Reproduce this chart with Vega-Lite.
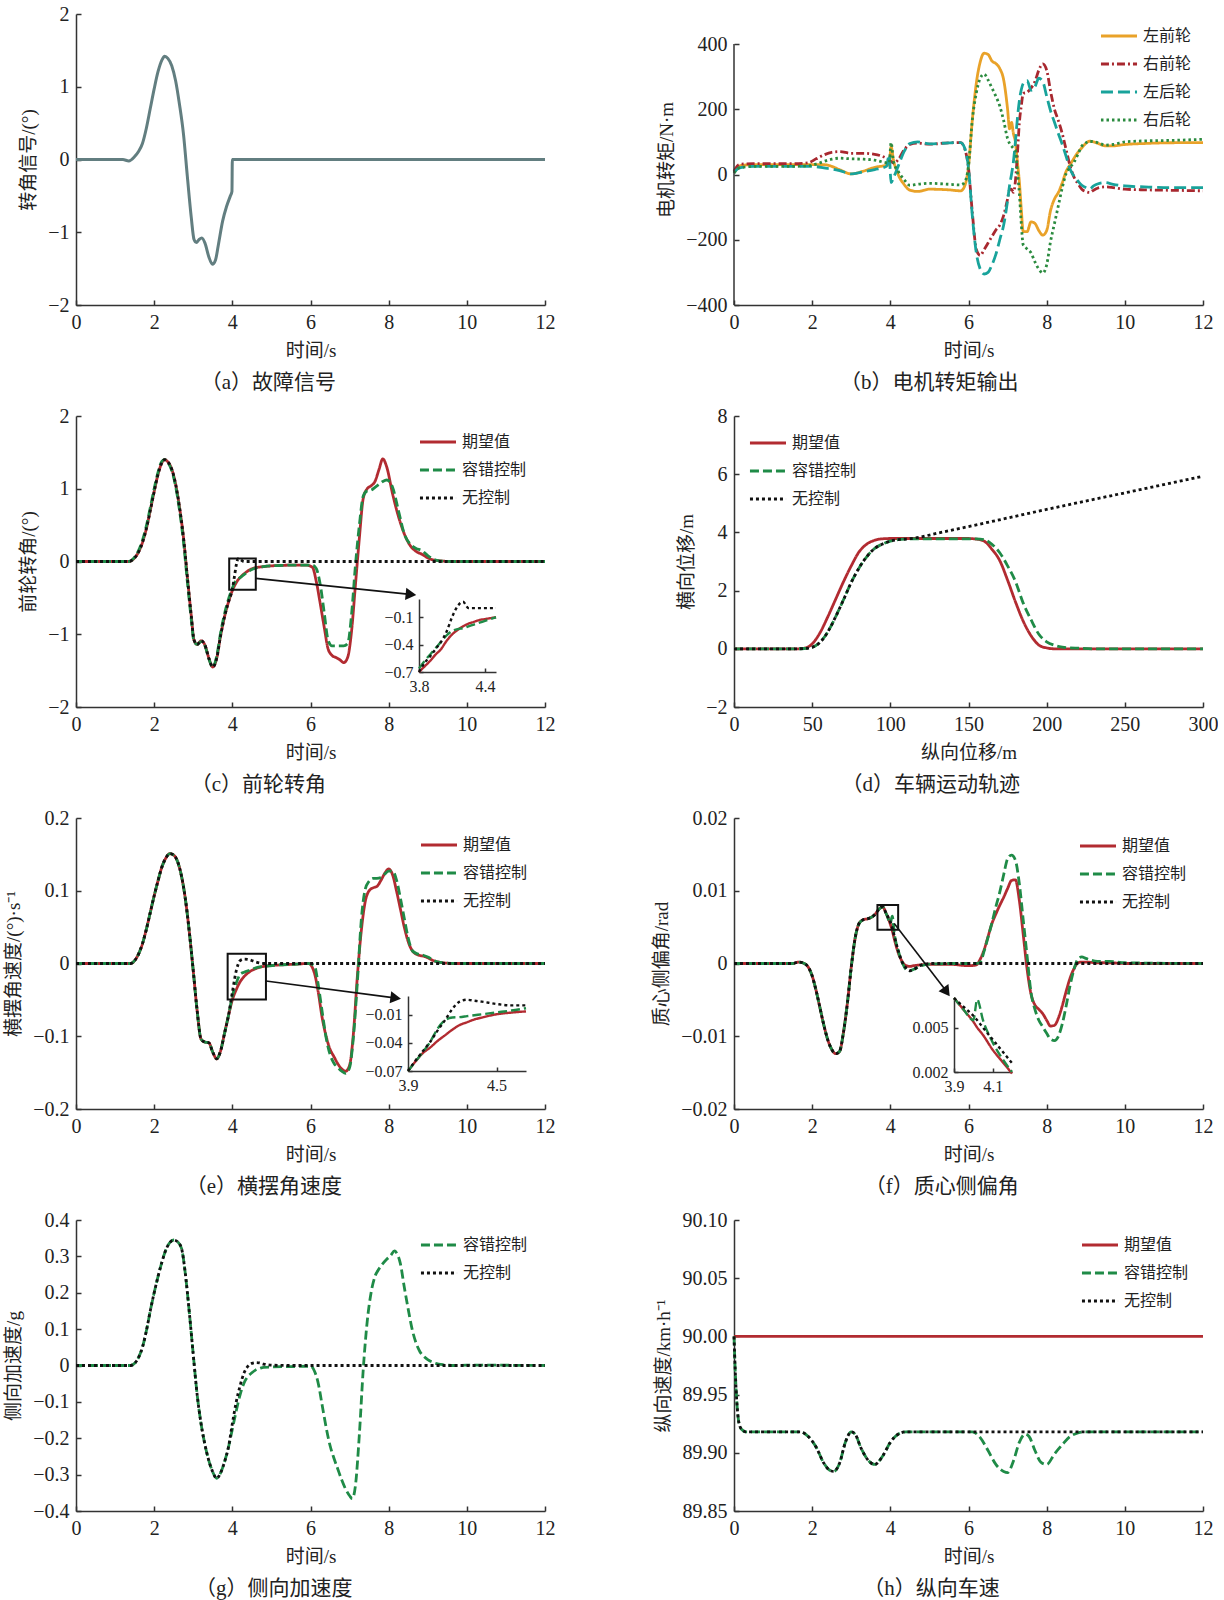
{
"$schema": "https://vega.github.io/schema/vega-lite/v6.json",
"padding": {"left": 4, "top": 4, "right": 0, "bottom": 12},
"background": "white",
"config": {
 "view": {"stroke": null},
 "font": "Liberation Serif, Noto Sans CJK SC",
 "axis": {"labelFont": "Liberation Serif, Noto Sans CJK SC", "labelFontSize": 20, "labelColor": "#222", "titleFont": "Liberation Serif, Noto Sans CJK SC", "titleFontSize": 19, "titleFontWeight": "normal", "titleColor": "#222", "domainColor": "#333", "domainWidth": 1.5, "tickColor": "#333", "tickWidth": 1.5, "tickSize": -5, "grid": false, "labelFlush": false, "labelOverlap": false, "labelPadding": 12, "titlePadding": 9, "format": "~r"},
 "legend": {"symbolType": "stroke", "symbolStrokeWidth": 3, "symbolSize": 1300, "labelFont": "Liberation Serif, Noto Sans CJK SC", "labelFontSize": 16, "labelColor": "#222", "rowPadding": 0, "labelOffset": 4, "padding": 0},
 "title": {"orient": "bottom", "anchor": "middle", "frame": "bounds", "fontSize": 21, "fontWeight": "normal", "font": "Liberation Serif, Noto Sans CJK SC", "offset": 12, "color": "#222"}
},
"datasets": {
 "a": [{"t":0,"v":0},{"t":1.2,"v":0},{"t":1.35,"v":-0.02},{"t":1.5,"v":0.04},{"t":1.6,"v":0.11},{"t":1.7,"v":0.22},{"t":1.8,"v":0.43},{"t":1.9,"v":0.7},{"t":2.0,"v":0.97},{"t":2.1,"v":1.21},{"t":2.2,"v":1.37},{"t":2.27,"v":1.42},{"t":2.35,"v":1.39},{"t":2.45,"v":1.29},{"t":2.55,"v":1.08},{"t":2.65,"v":0.75},{"t":2.75,"v":0.35},{"t":2.85,"v":-0.24},{"t":2.95,"v":-0.8},{"t":3.02,"v":-1.1},{"t":3.08,"v":-1.14},{"t":3.15,"v":-1.1},{"t":3.22,"v":-1.08},{"t":3.3,"v":-1.15},{"t":3.4,"v":-1.34},{"t":3.49,"v":-1.44},{"t":3.57,"v":-1.38},{"t":3.65,"v":-1.15},{"t":3.75,"v":-0.85},{"t":3.85,"v":-0.65},{"t":3.95,"v":-0.5},{"t":3.99,"v":-0.44},{"t":4.0,"v":0},{"t":12,"v":0}],
 "b": [
  {"t":0,"左前轮":5,"右前轮":10,"左后轮":5,"右后轮":5},
  {"t":0.1,"左前轮":22,"右前轮":28,"左后轮":18,"右后轮":18},
  {"t":0.2,"左前轮":28,"右前轮":32,"左后轮":22,"右后轮":22},
  {"t":0.5,"左前轮":30,"右前轮":33,"左后轮":25,"右后轮":25},
  {"t":1.0,"左前轮":30,"右前轮":33,"左后轮":25,"右后轮":25},
  {"t":1.5,"左前轮":30,"右前轮":33,"左后轮":25,"右后轮":25},
  {"t":1.9,"左前轮":30,"右前轮":36,"左后轮":25,"右后轮":27},
  {"t":2.1,"左前轮":30,"右前轮":48,"左后轮":24,"右后轮":32},
  {"t":2.3,"左前轮":30,"右前轮":60,"左后轮":20,"右后轮":40},
  {"t":2.5,"左前轮":25,"右前轮":68,"左后轮":17,"右后轮":47},
  {"t":2.7,"左前轮":15,"右前轮":70,"左后轮":12,"右后轮":50},
  {"t":3.0,"左前轮":2,"右前轮":65,"左后轮":2,"右后轮":48},
  {"t":3.3,"左前轮":10,"右前轮":65,"左后轮":8,"右后轮":47},
  {"t":3.6,"左前轮":22,"右前轮":62,"左后轮":15,"右后轮":44},
  {"t":3.9,"左前轮":28,"右前轮":50,"左后轮":25,"右后轮":36},
  {"t":3.97,"左前轮":30,"右前轮":45,"左后轮":60,"右后轮":35},
  {"t":4.02,"左前轮":85,"右前轮":40,"左后轮":-25,"右后轮":98},
  {"t":4.08,"左前轮":45,"右前轮":35,"左后轮":-10,"右后轮":40},
  {"t":4.2,"左前轮":0,"右前轮":45,"左后轮":25,"右后轮":10},
  {"t":4.35,"左前轮":-30,"右前轮":75,"左后轮":70,"右后轮":-15},
  {"t":4.5,"左前轮":-48,"右前轮":92,"左后轮":95,"右后轮":-33},
  {"t":4.7,"左前轮":-52,"右前轮":96,"左后轮":100,"右后轮":-30},
  {"t":5.0,"左前轮":-45,"右前轮":93,"左后轮":94,"右后轮":-27},
  {"t":5.5,"左前轮":-47,"右前轮":97,"左后轮":97,"右后轮":-30},
  {"t":5.8,"左前轮":-50,"右前轮":98,"左后轮":98,"右后轮":-32},
  {"t":5.9,"左前轮":-36,"右前轮":80,"左后轮":82,"右后轮":-24},
  {"t":6.0,"左前轮":26,"右前轮":20,"左后轮":20,"右后轮":26},
  {"t":6.1,"左前轮":170,"右前轮":-120,"左后轮":-130,"右后轮":170},
  {"t":6.2,"左前轮":280,"右前轮":-230,"左后轮":-240,"右后轮":250},
  {"t":6.3,"左前轮":345,"右前轮":-248,"左后轮":-290,"右后轮":295},
  {"t":6.4,"左前轮":372,"右前轮":-230,"左后轮":-305,"右后轮":308},
  {"t":6.5,"左前轮":368,"右前轮":-210,"左后轮":-300,"右后轮":290},
  {"t":6.6,"左前轮":348,"右前轮":-190,"左后轮":-277,"右后轮":265},
  {"t":6.7,"左前轮":340,"右前轮":-170,"左后轮":-245,"右后轮":240},
  {"t":6.8,"左前轮":325,"右前轮":-155,"左后轮":-200,"右后轮":210},
  {"t":6.9,"左前轮":290,"右前轮":-125,"左后轮":-155,"右后轮":165},
  {"t":7.0,"左前轮":200,"右前轮":-75,"左后轮":-80,"右后轮":110},
  {"t":7.05,"左前轮":140,"右前轮":-46,"左后轮":-34,"右后轮":95},
  {"t":7.1,"左前轮":160,"右前轮":-45,"左后轮":0,"右后轮":87},
  {"t":7.15,"左前轮":125,"右前轮":-55,"左后轮":40,"右后轮":80},
  {"t":7.2,"左前轮":100,"右前轮":-20,"左后轮":100,"右后轮":75},
  {"t":7.25,"左前轮":40,"右前轮":60,"左后轮":170,"右后轮":10},
  {"t":7.3,"左前轮":-20,"右前轮":157,"左后轮":225,"右后轮":-55},
  {"t":7.35,"左前轮":-105,"右前轮":210,"左后轮":260,"右后轮":-150},
  {"t":7.4,"左前轮":-175,"右前轮":248,"左后轮":279,"右后轮":-216},
  {"t":7.5,"左前轮":-175,"右前轮":252,"左后轮":288,"右后轮":-228},
  {"t":7.6,"左前轮":-145,"右前轮":265,"左后轮":258,"右后轮":-240},
  {"t":7.7,"左前轮":-150,"右前轮":285,"左后轮":269,"右后轮":-268},
  {"t":7.8,"左前轮":-172,"右前轮":320,"左后轮":295,"右后轮":-290},
  {"t":7.9,"左前轮":-186,"右前轮":339,"左后轮":285,"右后轮":-302},
  {"t":8.0,"左前轮":-172,"右前轮":320,"左后轮":240,"右后轮":-277},
  {"t":8.1,"左前轮":-110,"右前轮":255,"左后轮":195,"右后轮":-205},
  {"t":8.2,"左前轮":-75,"右前轮":200,"左后轮":160,"右后轮":-150},
  {"t":8.3,"左前轮":-55,"右前轮":165,"左后轮":125,"右后轮":-95},
  {"t":8.4,"左前轮":-25,"右前轮":125,"左后轮":92,"右后轮":-40},
  {"t":8.5,"左前轮":10,"右前轮":75,"左后轮":55,"右后轮":4},
  {"t":8.6,"左前轮":30,"右前轮":26,"左后轮":16,"右后轮":22},
  {"t":8.7,"左前轮":50,"右前轮":-8,"左后轮":-5,"右后轮":38},
  {"t":8.8,"左前轮":68,"右前轮":-28,"左后轮":-20,"右后轮":62},
  {"t":8.9,"左前轮":82,"右前轮":-45,"左后轮":-33,"右后轮":87},
  {"t":9.0,"左前轮":95,"右前轮":-52,"左后轮":-40,"右后轮":97},
  {"t":9.1,"左前轮":102,"右前轮":-55,"左后轮":-44,"右后轮":102},
  {"t":9.2,"左前轮":100,"右前轮":-48,"左后轮":-35,"右后轮":100},
  {"t":9.3,"左前轮":96,"右前轮":-42,"左后轮":-29,"右后轮":98},
  {"t":9.5,"左前轮":88,"右前轮":-38,"左后轮":-25,"右后轮":90},
  {"t":9.7,"左前轮":88,"右前轮":-40,"左后轮":-30,"右后轮":92},
  {"t":10,"左前轮":92,"右前轮":-45,"左后轮":-35,"右后轮":100},
  {"t":10.5,"左前轮":95,"右前轮":-47,"左后轮":-38,"右后轮":103},
  {"t":11,"左前轮":97,"右前轮":-48,"左后轮":-40,"右后轮":104},
  {"t":12,"左前轮":98,"右前轮":-50,"左后轮":-40,"右后轮":108}
 ],
 "c": [
  {"t":0,"期望值":0,"容错控制":0,"无控制":0},
  {"t":1.2,"期望值":0,"容错控制":0,"无控制":0},
  {"t":1.35,"期望值":0,"容错控制":0,"无控制":0},
  {"t":1.5,"期望值":0.05,"容错控制":0.06,"无控制":0.05},
  {"t":1.6,"期望值":0.13,"容错控制":0.15,"无控制":0.13},
  {"t":1.7,"期望值":0.26,"容错控制":0.29,"无控制":0.26},
  {"t":1.8,"期望值":0.45,"容错控制":0.49,"无控制":0.45},
  {"t":1.9,"期望值":0.7,"容错控制":0.74,"无控制":0.7},
  {"t":2.0,"期望值":0.96,"容错控制":1.0,"无控制":0.96},
  {"t":2.1,"期望值":1.2,"容错控制":1.23,"无控制":1.2},
  {"t":2.2,"期望值":1.36,"容错控制":1.38,"无控制":1.36},
  {"t":2.27,"期望值":1.4,"容错控制":1.4,"无控制":1.4},
  {"t":2.35,"期望值":1.37,"容错控制":1.36,"无控制":1.37},
  {"t":2.45,"期望值":1.27,"容错控制":1.25,"无控制":1.27},
  {"t":2.55,"期望值":1.06,"容错控制":1.03,"无控制":1.06},
  {"t":2.65,"期望值":0.74,"容错控制":0.7,"无控制":0.74},
  {"t":2.75,"期望值":0.33,"容错控制":0.27,"无控制":0.33},
  {"t":2.85,"期望值":-0.22,"容错控制":-0.28,"无控制":-0.22},
  {"t":2.95,"期望值":-0.75,"容错控制":-0.8,"无控制":-0.75},
  {"t":3.02,"期望值":-1.08,"容错控制":-1.1,"无控制":-1.08},
  {"t":3.1,"期望值":-1.14,"容错控制":-1.14,"无控制":-1.14},
  {"t":3.2,"期望值":-1.09,"容错控制":-1.1,"无控制":-1.09},
  {"t":3.3,"期望值":-1.15,"容错控制":-1.16,"无控制":-1.15},
  {"t":3.4,"期望值":-1.33,"容错控制":-1.34,"无控制":-1.33},
  {"t":3.5,"期望值":-1.45,"容错控制":-1.45,"无控制":-1.45},
  {"t":3.6,"期望值":-1.33,"容错控制":-1.3,"无控制":-1.33},
  {"t":3.7,"期望值":-1.02,"容错控制":-0.98,"无控制":-1.02},
  {"t":3.8,"期望值":-0.76,"容错控制":-0.72,"无控制":-0.76},
  {"t":3.9,"期望值":-0.56,"容错控制":-0.52,"无控制":-0.56},
  {"t":4.0,"期望值":-0.4,"容错控制":-0.37,"无控制":-0.38},
  {"t":4.05,"期望值":-0.34,"容错控制":-0.3,"无控制":-0.22},
  {"t":4.1,"期望值":-0.29,"容错控制":-0.26,"无控制":-0.05},
  {"t":4.15,"期望值":-0.25,"容错控制":-0.24,"无控制":0.04},
  {"t":4.2,"期望值":-0.22,"容错控制":-0.22,"无控制":0.03},
  {"t":4.3,"期望值":-0.17,"容错控制":-0.18,"无控制":0},
  {"t":4.5,"期望值":-0.1,"容错控制":-0.11,"无控制":0},
  {"t":4.8,"期望值":-0.07,"容错控制":-0.07,"无控制":0},
  {"t":5.2,"期望值":-0.055,"容错控制":-0.055,"无控制":0},
  {"t":5.6,"期望值":-0.05,"容错控制":-0.05,"无控制":0},
  {"t":5.9,"期望值":-0.05,"容错控制":-0.05,"无控制":0},
  {"t":6.05,"期望值":-0.08,"容错控制":-0.05,"无控制":0},
  {"t":6.15,"期望值":-0.28,"容错控制":-0.1,"无控制":0},
  {"t":6.25,"期望值":-0.58,"容错控制":-0.32,"无控制":0},
  {"t":6.35,"期望值":-0.9,"容错控制":-0.7,"无控制":0},
  {"t":6.45,"期望值":-1.2,"容错控制":-1.08,"无控制":0},
  {"t":6.55,"期望值":-1.29,"容错控制":-1.16,"无控制":0},
  {"t":6.65,"期望值":-1.32,"容错控制":-1.16,"无控制":0},
  {"t":6.75,"期望值":-1.35,"容错控制":-1.16,"无控制":0},
  {"t":6.85,"期望值":-1.39,"容错控制":-1.16,"无控制":0},
  {"t":6.95,"期望值":-1.32,"容错控制":-1.13,"无控制":0},
  {"t":7.05,"期望值":-0.96,"容错控制":-0.73,"无控制":0},
  {"t":7.15,"期望值":-0.32,"容错控制":-0.05,"无控制":0},
  {"t":7.25,"期望值":0.32,"容错控制":0.5,"无控制":0},
  {"t":7.35,"期望值":0.87,"容错控制":0.9,"无控制":0},
  {"t":7.45,"期望值":1.0,"容错控制":0.97,"无控制":0},
  {"t":7.55,"期望值":1.04,"容错控制":0.98,"无控制":0},
  {"t":7.65,"期望值":1.1,"容错控制":1.02,"无控制":0},
  {"t":7.75,"期望值":1.26,"容错控制":1.06,"无控制":0},
  {"t":7.85,"期望值":1.41,"容错控制":1.1,"无控制":0},
  {"t":7.95,"期望值":1.3,"容错控制":1.12,"无控制":0},
  {"t":8.1,"期望值":0.93,"容错控制":1.02,"无控制":0},
  {"t":8.25,"期望值":0.62,"容错控制":0.7,"无控制":0},
  {"t":8.4,"期望值":0.38,"容错控制":0.38,"无控制":0},
  {"t":8.55,"期望值":0.22,"容错控制":0.24,"无控制":0},
  {"t":8.7,"期望值":0.14,"容错控制":0.18,"无控制":0},
  {"t":8.85,"期望值":0.1,"容错控制":0.15,"无控制":0},
  {"t":9.0,"期望值":0.05,"容错控制":0.08,"无控制":0},
  {"t":9.15,"期望值":0.02,"容错控制":0.03,"无控制":0},
  {"t":9.3,"期望值":0.01,"容错控制":0.01,"无控制":0},
  {"t":9.6,"期望值":0,"容错控制":0,"无控制":0},
  {"t":12,"期望值":0,"容错控制":0,"无控制":0}
 ],
 "c_in": [
  {"t":3.8,"期望值":-0.7,"容错控制":-0.66,"无控制":-0.7},
  {"t":3.85,"期望值":-0.64,"容错控制":-0.58,"无控制":-0.6},
  {"t":3.9,"期望值":-0.58,"容错控制":-0.51,"无控制":-0.53},
  {"t":3.95,"期望值":-0.51,"容错控制":-0.44,"无控制":-0.45},
  {"t":4.0,"期望值":-0.45,"容错控制":-0.37,"无控制":-0.37},
  {"t":4.05,"期望值":-0.36,"容错控制":-0.3,"无控制":-0.26},
  {"t":4.1,"期望值":-0.29,"容错控制":-0.25,"无控制":-0.1},
  {"t":4.15,"期望值":-0.24,"容错控制":-0.23,"无控制":0.02},
  {"t":4.2,"期望值":-0.2,"容错控制":-0.22,"无控制":0.07},
  {"t":4.25,"期望值":-0.17,"容错控制":-0.2,"无控制":0.0},
  {"t":4.3,"期望值":-0.15,"容错控制":-0.18,"无控制":0.0},
  {"t":4.35,"期望值":-0.13,"容错控制":-0.16,"无控制":0.0},
  {"t":4.4,"期望值":-0.12,"容错控制":-0.14,"无控制":0.0},
  {"t":4.45,"期望值":-0.11,"容错控制":-0.12,"无控制":0.0},
  {"t":4.5,"期望值":-0.1,"容错控制":-0.1,"无控制":0.0}
 ],
 "d": [
  {"t":0,"期望值":0,"容错控制":0,"无控制":0},
  {"t":40,"期望值":0,"容错控制":0,"无控制":0},
  {"t":45,"期望值":0.02,"容错控制":0.01,"无控制":0.01},
  {"t":50,"期望值":0.17,"容错控制":0.05,"无控制":0.05},
  {"t":55,"期望值":0.55,"容错控制":0.22,"无控制":0.22},
  {"t":60,"期望值":1.1,"容错控制":0.58,"无控制":0.58},
  {"t":65,"期望值":1.7,"容错控制":1.1,"无控制":1.1},
  {"t":70,"期望值":2.3,"容错控制":1.68,"无控制":1.68},
  {"t":75,"期望值":2.85,"容错控制":2.28,"无控制":2.28},
  {"t":80,"期望值":3.33,"容错控制":2.78,"无控制":2.78},
  {"t":85,"期望值":3.6,"容错控制":3.17,"无控制":3.17},
  {"t":90,"期望值":3.73,"容错控制":3.45,"无控制":3.45},
  {"t":95,"期望值":3.78,"容错控制":3.6,"无控制":3.6},
  {"t":100,"期望值":3.79,"容错控制":3.7,"无控制":3.7},
  {"t":105,"期望值":3.79,"容错控制":3.75,"无控制":3.75},
  {"t":110,"期望值":3.79,"容错控制":3.77,"无控制":3.77},
  {"t":115,"期望值":3.79,"容错控制":3.78,"无控制":3.8},
  {"t":130,"期望值":3.79,"容错控制":3.78,"无控制":3.97},
  {"t":150,"期望值":3.79,"容错控制":3.78,"无控制":4.2},
  {"t":155,"期望值":3.77,"容错控制":3.78},
  {"t":160,"期望值":3.7,"容错控制":3.75},
  {"t":165,"期望值":3.42,"容错控制":3.59},
  {"t":170,"期望值":3.03,"容错控制":3.3},
  {"t":175,"期望值":2.36,"容错控制":2.85},
  {"t":180,"期望值":1.62,"容错控制":2.32},
  {"t":185,"期望值":0.95,"容错控制":1.57},
  {"t":190,"期望值":0.45,"容错控制":1.0},
  {"t":195,"期望值":0.13,"容错控制":0.5},
  {"t":200,"期望值":0.03,"容错控制":0.24,"无控制":4.79},
  {"t":205,"期望值":0,"容错控制":0.12},
  {"t":210,"期望值":0,"容错控制":0.06},
  {"t":215,"期望值":0,"容错控制":0.03},
  {"t":220,"期望值":0,"容错控制":0.02},
  {"t":230,"期望值":0,"容错控制":0},
  {"t":250,"期望值":0,"容错控制":0,"无控制":5.36},
  {"t":300,"期望值":0,"容错控制":0,"无控制":5.93}
 ],
 "e": [
  {"t":0,"期望值":0,"容错控制":0,"无控制":0},
  {"t":1.4,"期望值":0,"容错控制":0,"无控制":0},
  {"t":1.5,"期望值":0.004,"容错控制":0.004,"无控制":0.004},
  {"t":1.6,"期望值":0.013,"容错控制":0.013,"无控制":0.013},
  {"t":1.7,"期望值":0.027,"容错控制":0.027,"无控制":0.027},
  {"t":1.8,"期望值":0.047,"容错控制":0.047,"无控制":0.047},
  {"t":1.9,"期望值":0.07,"容错控制":0.07,"无控制":0.07},
  {"t":2.0,"期望值":0.093,"容错控制":0.093,"无控制":0.093},
  {"t":2.1,"期望值":0.114,"容错控制":0.114,"无控制":0.114},
  {"t":2.2,"期望值":0.133,"容错控制":0.133,"无控制":0.133},
  {"t":2.3,"期望值":0.145,"容错控制":0.145,"无控制":0.145},
  {"t":2.4,"期望值":0.151,"容错控制":0.151,"无控制":0.151},
  {"t":2.5,"期望值":0.149,"容错控制":0.149,"无控制":0.149},
  {"t":2.6,"期望值":0.14,"容错控制":0.14,"无控制":0.14},
  {"t":2.7,"期望值":0.12,"容错控制":0.12,"无控制":0.12},
  {"t":2.8,"期望值":0.088,"容错控制":0.088,"无控制":0.088},
  {"t":2.9,"期望值":0.043,"容错控制":0.043,"无控制":0.043},
  {"t":3.0,"期望值":-0.01,"容错控制":-0.01,"无控制":-0.01},
  {"t":3.1,"期望值":-0.065,"容错控制":-0.065,"无控制":-0.065},
  {"t":3.2,"期望值":-0.104,"容错控制":-0.104,"无控制":-0.104},
  {"t":3.3,"期望值":-0.108,"容错控制":-0.108,"无控制":-0.108},
  {"t":3.4,"期望值":-0.109,"容错控制":-0.109,"无控制":-0.109},
  {"t":3.5,"期望值":-0.122,"容错控制":-0.122,"无控制":-0.122},
  {"t":3.6,"期望值":-0.131,"容错控制":-0.131,"无控制":-0.131},
  {"t":3.7,"期望值":-0.12,"容错控制":-0.12,"无控制":-0.12},
  {"t":3.8,"期望值":-0.096,"容错控制":-0.096,"无控制":-0.096},
  {"t":3.9,"期望值":-0.072,"容错控制":-0.072,"无控制":-0.072},
  {"t":4.0,"期望值":-0.05,"容错控制":-0.045,"无控制":-0.04},
  {"t":4.1,"期望值":-0.036,"容错控制":-0.027,"无控制":-0.01},
  {"t":4.2,"期望值":-0.025,"容错控制":-0.015,"无控制":0.004},
  {"t":4.3,"期望值":-0.018,"容错控制":-0.012,"无控制":0.006},
  {"t":4.45,"期望值":-0.011,"容错控制":-0.009,"无控制":0.005},
  {"t":4.6,"期望值":-0.007,"容错控制":-0.006,"无控制":0.002},
  {"t":4.8,"期望值":-0.004,"容错控制":-0.004,"无控制":0},
  {"t":5.2,"期望值":-0.002,"容错控制":-0.002,"无控制":0},
  {"t":5.6,"期望值":-0.001,"容错控制":-0.001,"无控制":0},
  {"t":5.95,"期望值":0,"容错控制":0,"无控制":0},
  {"t":6.1,"期望值":-0.013,"容错控制":-0.003,"无控制":0},
  {"t":6.2,"期望值":-0.04,"容错控制":-0.03,"无控制":0},
  {"t":6.3,"期望值":-0.075,"容错控制":-0.067,"无控制":0},
  {"t":6.4,"期望值":-0.1,"容错控制":-0.102,"无控制":0},
  {"t":6.5,"期望值":-0.118,"容错控制":-0.125,"无控制":0},
  {"t":6.6,"期望值":-0.128,"容错控制":-0.137,"无控制":0},
  {"t":6.7,"期望值":-0.138,"容错控制":-0.143,"无控制":0},
  {"t":6.8,"期望值":-0.145,"容错控制":-0.148,"无控制":0},
  {"t":6.9,"期望值":-0.148,"容错控制":-0.151,"无控制":0},
  {"t":7.0,"期望值":-0.14,"容错控制":-0.143,"无控制":0},
  {"t":7.1,"期望值":-0.095,"容错控制":-0.1,"无控制":0},
  {"t":7.2,"期望值":-0.017,"容错控制":-0.025,"无控制":0},
  {"t":7.3,"期望值":0.045,"容错控制":0.06,"无控制":0},
  {"t":7.4,"期望值":0.085,"容错控制":0.102,"无控制":0},
  {"t":7.5,"期望值":0.1,"容错控制":0.113,"无控制":0},
  {"t":7.6,"期望值":0.104,"容错控制":0.117,"无控制":0},
  {"t":7.7,"期望值":0.106,"容错控制":0.117,"无控制":0},
  {"t":7.8,"期望值":0.114,"容错控制":0.118,"无控制":0},
  {"t":7.9,"期望值":0.124,"容错控制":0.123,"无控制":0},
  {"t":8.0,"期望值":0.13,"容错控制":0.127,"无控制":0},
  {"t":8.1,"期望值":0.122,"容错控制":0.127,"无控制":0},
  {"t":8.2,"期望值":0.1,"容错控制":0.115,"无控制":0},
  {"t":8.3,"期望值":0.075,"容错控制":0.09,"无控制":0},
  {"t":8.4,"期望值":0.05,"容错控制":0.062,"无控制":0},
  {"t":8.5,"期望值":0.03,"容错控制":0.035,"无控制":0},
  {"t":8.6,"期望值":0.018,"容错控制":0.018,"无控制":0},
  {"t":8.7,"期望值":0.013,"容错控制":0.014,"无控制":0},
  {"t":8.8,"期望值":0.011,"容错控制":0.012,"无控制":0},
  {"t":8.9,"期望值":0.01,"容错控制":0.011,"无控制":0},
  {"t":9.0,"期望值":0.008,"容错控制":0.009,"无控制":0},
  {"t":9.1,"期望值":0.005,"容错控制":0.006,"无控制":0},
  {"t":9.2,"期望值":0.003,"容错控制":0.003,"无控制":0},
  {"t":9.4,"期望值":0.001,"容错控制":0.001,"无控制":0},
  {"t":9.7,"期望值":0,"容错控制":0,"无控制":0},
  {"t":12,"期望值":0,"容错控制":0,"无控制":0}
 ],
 "e_in": [
  {"t":3.9,"期望值":-0.07,"容错控制":-0.07,"无控制":-0.07},
  {"t":3.95,"期望值":-0.06,"容错控制":-0.06,"无控制":-0.059},
  {"t":4.0,"期望值":-0.051,"容错控制":-0.05,"无控制":-0.049},
  {"t":4.05,"期望值":-0.045,"容错控制":-0.039,"无控制":-0.039},
  {"t":4.1,"期望值":-0.038,"容错控制":-0.025,"无控制":-0.027},
  {"t":4.15,"期望值":-0.032,"容错控制":-0.016,"无控制":-0.016},
  {"t":4.2,"期望值":-0.026,"容错控制":-0.013,"无控制":-0.004},
  {"t":4.25,"期望值":-0.021,"容错控制":-0.0125,"无控制":0.004},
  {"t":4.3,"期望值":-0.018,"容错控制":-0.0115,"无控制":0.006},
  {"t":4.35,"期望值":-0.015,"容错控制":-0.0105,"无控制":0.005},
  {"t":4.4,"期望值":-0.013,"容错控制":-0.0095,"无控制":0.004},
  {"t":4.5,"期望值":-0.0095,"容错控制":-0.0075,"无控制":0.0015},
  {"t":4.6,"期望值":-0.0077,"容错控制":-0.0055,"无控制":0.0},
  {"t":4.7,"期望值":-0.0064,"容错控制":-0.003,"无控制":0.0}
 ],
 "f": [
  {"t":0,"期望值":0,"容错控制":0,"无控制":0},
  {"t":1.5,"期望值":0,"容错控制":0,"无控制":0},
  {"t":1.65,"期望值":0.0002,"容错控制":0.0002,"无控制":0.0002},
  {"t":1.8,"期望值":0,"容错控制":0,"无控制":0},
  {"t":1.9,"期望值":-0.0005,"容错控制":-0.0005,"无控制":-0.0005},
  {"t":2.0,"期望值":-0.0017,"容错控制":-0.0017,"无控制":-0.0017},
  {"t":2.1,"期望值":-0.0037,"容错控制":-0.0037,"无控制":-0.0037},
  {"t":2.2,"期望值":-0.0061,"容错控制":-0.0061,"无控制":-0.0061},
  {"t":2.3,"期望值":-0.0085,"容错控制":-0.0085,"无控制":-0.0085},
  {"t":2.4,"期望值":-0.0105,"容错控制":-0.0105,"无控制":-0.0105},
  {"t":2.5,"期望值":-0.0118,"容错控制":-0.0118,"无控制":-0.0118},
  {"t":2.6,"期望值":-0.0124,"容错控制":-0.0124,"无控制":-0.0124},
  {"t":2.7,"期望值":-0.0121,"容错控制":-0.0121,"无控制":-0.0121},
  {"t":2.8,"期望值":-0.0095,"容错控制":-0.0095,"无控制":-0.0095},
  {"t":2.9,"期望值":-0.0055,"容错控制":-0.0055,"无控制":-0.0055},
  {"t":3.0,"期望值":-0.0005,"容错控制":-0.0005,"无控制":-0.0005},
  {"t":3.1,"期望值":0.0035,"容错控制":0.0035,"无控制":0.0035},
  {"t":3.2,"期望值":0.0055,"容错控制":0.0055,"无控制":0.0055},
  {"t":3.3,"期望值":0.006,"容错控制":0.006,"无控制":0.006},
  {"t":3.45,"期望值":0.0062,"容错控制":0.0062,"无控制":0.0062},
  {"t":3.6,"期望值":0.0067,"容错控制":0.0067,"无控制":0.0067},
  {"t":3.7,"期望值":0.0074,"容错控制":0.0074,"无控制":0.0074},
  {"t":3.8,"期望值":0.0078,"容错控制":0.0078,"无控制":0.0078},
  {"t":3.9,"期望值":0.0068,"容错控制":0.0068,"无控制":0.0068},
  {"t":4.0,"期望值":0.0054,"容错控制":0.0056,"无控制":0.0057},
  {"t":4.05,"期望值":0.0045,"容错控制":0.0065,"无控制":0.0049},
  {"t":4.1,"期望值":0.0034,"容错控制":0.0042,"无控制":0.0038},
  {"t":4.2,"期望值":0.0015,"容错控制":0.0018,"无控制":0.0018},
  {"t":4.3,"期望值":0.0003,"容错控制":0.0002,"无控制":0.0002},
  {"t":4.4,"期望值":-0.0003,"容错控制":-0.0008,"无控制":-0.0006},
  {"t":4.5,"期望值":-0.0004,"容错控制":-0.001,"无控制":-0.001},
  {"t":4.6,"期望值":-0.0003,"容错控制":-0.0008,"无控制":-0.0008},
  {"t":4.75,"期望值":-0.0002,"容错控制":-0.0004,"无控制":-0.0003},
  {"t":5.0,"期望值":-0.0001,"容错控制":-0.0001,"无控制":0},
  {"t":5.5,"期望值":-0.0001,"容错控制":0,"无控制":0},
  {"t":6.0,"期望值":-0.0003,"容错控制":0,"无控制":0},
  {"t":6.2,"期望值":-0.0002,"容错控制":0,"无控制":0},
  {"t":6.3,"期望值":0.0006,"容错控制":0.0002,"无控制":0},
  {"t":6.4,"期望值":0.0019,"容错控制":0.0017,"无控制":0},
  {"t":6.5,"期望值":0.0037,"容错控制":0.0036,"无控制":0},
  {"t":6.6,"期望值":0.0055,"容错控制":0.0056,"无控制":0},
  {"t":6.7,"期望值":0.0068,"容错控制":0.0078,"无控制":0},
  {"t":6.8,"期望值":0.008,"容错控制":0.0098,"无控制":0},
  {"t":6.9,"期望值":0.0091,"容错控制":0.0122,"无控制":0},
  {"t":7.0,"期望值":0.0103,"容错控制":0.0144,"无控制":0},
  {"t":7.1,"期望值":0.0114,"容错控制":0.0149,"无控制":0},
  {"t":7.2,"期望值":0.0115,"容错控制":0.0142,"无控制":0},
  {"t":7.3,"期望值":0.0087,"容错控制":0.011,"无控制":0},
  {"t":7.4,"期望值":0.004,"容错控制":0.006,"无控制":0},
  {"t":7.5,"期望值":-0.0008,"容错控制":0.001,"无控制":0},
  {"t":7.6,"期望值":-0.0042,"容错控制":-0.004,"无控制":0},
  {"t":7.7,"期望值":-0.0057,"容错控制":-0.0063,"无控制":0},
  {"t":7.8,"期望值":-0.0063,"容错控制":-0.0078,"无控制":0},
  {"t":7.9,"期望值":-0.0069,"容错控制":-0.0087,"无控制":0},
  {"t":8.0,"期望值":-0.0078,"容错控制":-0.0096,"无控制":0},
  {"t":8.1,"期望值":-0.0086,"容错控制":-0.0104,"无控制":0},
  {"t":8.2,"期望值":-0.0085,"容错控制":-0.0106,"无控制":0},
  {"t":8.3,"期望值":-0.0075,"容错控制":-0.01,"无控制":0},
  {"t":8.4,"期望值":-0.0058,"容错控制":-0.0083,"无控制":0},
  {"t":8.5,"期望值":-0.0038,"容错控制":-0.0058,"无控制":0},
  {"t":8.6,"期望值":-0.002,"容错控制":-0.003,"无控制":0},
  {"t":8.7,"期望值":-0.0007,"容错控制":-0.0008,"无控制":0},
  {"t":8.8,"期望值":0.0001,"容错控制":0.0006,"无控制":0},
  {"t":8.9,"期望值":0.0002,"容错控制":0.0009,"无控制":0},
  {"t":9.0,"期望值":0.0002,"容错控制":0.0007,"无控制":0},
  {"t":9.3,"期望值":0.0001,"容错控制":0.0003,"无控制":0},
  {"t":9.6,"期望值":0.0001,"容错控制":0.0003,"无控制":0},
  {"t":10,"期望值":0,"容错控制":0.0001,"无控制":0},
  {"t":12,"期望值":0,"容错控制":0,"无控制":0}
 ],
 "f_in": [
  {"t":3.9,"期望值":0.007,"容错控制":0.007,"无控制":0.007},
  {"t":3.95,"期望值":0.0062,"容错控制":0.0062,"无控制":0.0064},
  {"t":4.0,"期望值":0.0054,"容错控制":0.0055,"无控制":0.0058},
  {"t":4.02,"期望值":0.005,"容错控制":0.0069,"无控制":0.0055},
  {"t":4.05,"期望值":0.0045,"容错控制":0.0055,"无控制":0.005},
  {"t":4.1,"期望值":0.0035,"容错控制":0.004,"无控制":0.0042},
  {"t":4.15,"期望值":0.0027,"容错控制":0.0029,"无控制":0.0034},
  {"t":4.2,"期望值":0.0019,"容错控制":0.002,"无控制":0.0026}
 ],
 "g": [
  {"t":0,"容错控制":0,"无控制":0},
  {"t":1.4,"容错控制":0,"无控制":0},
  {"t":1.5,"容错控制":0.006,"无控制":0.006},
  {"t":1.6,"容错控制":0.022,"无控制":0.022},
  {"t":1.7,"容错控制":0.05,"无控制":0.05},
  {"t":1.8,"容错控制":0.095,"无控制":0.095},
  {"t":1.9,"容错控制":0.15,"无控制":0.15},
  {"t":2.0,"容错控制":0.2,"无控制":0.2},
  {"t":2.1,"容错控制":0.245,"无控制":0.245},
  {"t":2.2,"容错控制":0.285,"无控制":0.285},
  {"t":2.3,"容错控制":0.318,"无控制":0.318},
  {"t":2.4,"容错控制":0.338,"无控制":0.338},
  {"t":2.5,"容错控制":0.345,"无控制":0.345},
  {"t":2.6,"容错控制":0.34,"无控制":0.34},
  {"t":2.7,"容错控制":0.322,"无控制":0.322},
  {"t":2.8,"容错控制":0.25,"无控制":0.25},
  {"t":2.9,"容错控制":0.145,"无控制":0.145},
  {"t":3.0,"容错控制":0.03,"无控制":0.03},
  {"t":3.1,"容错控制":-0.08,"无控制":-0.08},
  {"t":3.2,"容错控制":-0.16,"无控制":-0.16},
  {"t":3.3,"容错控制":-0.218,"无控制":-0.218},
  {"t":3.4,"容错控制":-0.262,"无控制":-0.262},
  {"t":3.5,"容错控制":-0.293,"无控制":-0.293},
  {"t":3.6,"容错控制":-0.31,"无控制":-0.31},
  {"t":3.7,"容错控制":-0.295,"无控制":-0.295},
  {"t":3.8,"容错控制":-0.265,"无控制":-0.265},
  {"t":3.9,"容错控制":-0.225,"无控制":-0.225},
  {"t":4.0,"容错控制":-0.175,"无控制":-0.16},
  {"t":4.1,"容错控制":-0.125,"无控制":-0.1},
  {"t":4.2,"容错控制":-0.08,"无控制":-0.055},
  {"t":4.3,"容错控制":-0.048,"无控制":-0.02},
  {"t":4.4,"容错控制":-0.03,"无控制":-0.002},
  {"t":4.5,"容错控制":-0.02,"无控制":0.006},
  {"t":4.6,"容错控制":-0.012,"无控制":0.008},
  {"t":4.7,"容错控制":-0.008,"无控制":0.007},
  {"t":4.8,"容错控制":-0.005,"无控制":0.004},
  {"t":5.0,"容错控制":-0.004,"无控制":0.001},
  {"t":5.5,"容错控制":-0.003,"无控制":0},
  {"t":6.0,"容错控制":-0.002,"无控制":0},
  {"t":6.1,"容错控制":-0.015,"无控制":0},
  {"t":6.2,"容错控制":-0.05,"无控制":0},
  {"t":6.3,"容错控制":-0.11,"无控制":0},
  {"t":6.4,"容错控制":-0.17,"无控制":0},
  {"t":6.5,"容错控制":-0.22,"无控制":0},
  {"t":6.6,"容错控制":-0.255,"无控制":0},
  {"t":6.7,"容错控制":-0.285,"无控制":0},
  {"t":6.8,"容错控制":-0.315,"无控制":0},
  {"t":6.9,"容错控制":-0.34,"无控制":0},
  {"t":7.0,"容错控制":-0.358,"无控制":0},
  {"t":7.07,"容错控制":-0.366,"无控制":0},
  {"t":7.15,"容错控制":-0.33,"无控制":0},
  {"t":7.25,"容错控制":-0.19,"无控制":0},
  {"t":7.35,"容错控制":-0.01,"无控制":0},
  {"t":7.45,"容错控制":0.12,"无控制":0},
  {"t":7.55,"容错控制":0.2,"无控制":0},
  {"t":7.65,"容错控制":0.245,"无控制":0},
  {"t":7.75,"容错控制":0.265,"无控制":0},
  {"t":7.85,"容错控制":0.28,"无控制":0},
  {"t":7.95,"容错控制":0.292,"无控制":0},
  {"t":8.05,"容错控制":0.302,"无控制":0},
  {"t":8.15,"容错控制":0.315,"无控制":0},
  {"t":8.2,"容错控制":0.31,"无控制":0},
  {"t":8.3,"容错控制":0.28,"无控制":0},
  {"t":8.4,"容错控制":0.215,"无控制":0},
  {"t":8.5,"容错控制":0.155,"无控制":0},
  {"t":8.6,"容错控制":0.1,"无控制":0},
  {"t":8.7,"容错控制":0.062,"无控制":0},
  {"t":8.8,"容错控制":0.038,"无控制":0},
  {"t":8.9,"容错控制":0.025,"无控制":0},
  {"t":9.0,"容错控制":0.016,"无控制":0},
  {"t":9.2,"容错控制":0.006,"无控制":0},
  {"t":9.4,"容错控制":0.002,"无控制":0},
  {"t":9.7,"容错控制":0,"无控制":0},
  {"t":10,"容错控制":0.001,"无控制":0},
  {"t":12,"容错控制":0,"无控制":0}
 ],
 "h": [
  {"t":0,"期望值":90,"容错控制":90,"无控制":90},
  {"t":0.03,"期望值":90,"容错控制":89.972,"无控制":89.972},
  {"t":0.08,"期望值":90,"容错控制":89.94,"无控制":89.94},
  {"t":0.13,"期望值":90,"容错控制":89.925,"无控制":89.925},
  {"t":0.2,"期望值":90,"容错控制":89.92,"无控制":89.92},
  {"t":0.3,"期望值":90,"容错控制":89.918,"无控制":89.918},
  {"t":1.7,"期望值":90,"容错控制":89.918,"无控制":89.918},
  {"t":1.9,"期望值":90,"容错控制":89.914,"无控制":89.914},
  {"t":2.1,"期望值":90,"容错控制":89.905,"无控制":89.905},
  {"t":2.3,"期望值":90,"容错控制":89.891,"无控制":89.891},
  {"t":2.45,"期望值":90,"容错控制":89.885,"无控制":89.885},
  {"t":2.55,"期望值":90,"容错控制":89.884,"无控制":89.884},
  {"t":2.7,"期望值":90,"容错控制":89.891,"无控制":89.891},
  {"t":2.85,"期望值":90,"容错控制":89.909,"无控制":89.909},
  {"t":3.0,"期望值":90,"容错控制":89.918,"无控制":89.918},
  {"t":3.1,"期望值":90,"容错控制":89.916,"无控制":89.916},
  {"t":3.25,"期望值":90,"容错控制":89.904,"无控制":89.904},
  {"t":3.45,"期望值":90,"容错控制":89.893,"无控制":89.893},
  {"t":3.6,"期望值":90,"容错控制":89.89,"无控制":89.89},
  {"t":3.8,"期望值":90,"容错控制":89.897,"无控制":89.897},
  {"t":4.0,"期望值":90,"容错控制":89.909,"无控制":89.909},
  {"t":4.2,"期望值":90,"容错控制":89.916,"无控制":89.916},
  {"t":4.4,"期望值":90,"容错控制":89.918,"无控制":89.918},
  {"t":6.1,"期望值":90,"容错控制":89.918,"无控制":89.918},
  {"t":6.3,"期望值":90,"容错控制":89.913,"无控制":89.918},
  {"t":6.5,"期望值":90,"容错控制":89.902,"无控制":89.918},
  {"t":6.7,"期望值":90,"容错控制":89.89,"无控制":89.918},
  {"t":6.9,"期望值":90,"容错控制":89.884,"无控制":89.918},
  {"t":7.0,"期望值":90,"容错控制":89.883,"无控制":89.918},
  {"t":7.15,"期望值":90,"容错控制":89.893,"无控制":89.918},
  {"t":7.3,"期望值":90,"容错控制":89.909,"无控制":89.918},
  {"t":7.45,"期望值":90,"容错控制":89.916,"无控制":89.918},
  {"t":7.55,"期望值":90,"容错控制":89.914,"无控制":89.918},
  {"t":7.7,"期望值":90,"容错控制":89.902,"无控制":89.918},
  {"t":7.85,"期望值":90,"容错控制":89.892,"无控制":89.918},
  {"t":8.0,"期望值":90,"容错控制":89.89,"无控制":89.918},
  {"t":8.2,"期望值":90,"容错控制":89.899,"无控制":89.918},
  {"t":8.4,"期望值":90,"容错控制":89.907,"无控制":89.918},
  {"t":8.6,"期望值":90,"容错控制":89.914,"无控制":89.918},
  {"t":8.8,"期望值":90,"容错控制":89.917,"无控制":89.918},
  {"t":9.0,"期望值":90,"容错控制":89.918,"无控制":89.918},
  {"t":12,"期望值":90,"容错控制":89.918,"无控制":89.918}
 ]
},
"columns": 2,
"spacing": {"row": 111, "column": 189},
"bounds": "flush",
"resolve": {"scale": {"color": "independent", "strokeDash": "independent"}},
"concat": [
 {
  "width": 469, "height": 291, "title": {"text": "（a）故障信号", "dx": -19},
  "data": {"name": "a"},
  "mark": {"type": "line", "interpolate": "monotone", "strokeWidth": 3, "color": "#627E80"},
  "encoding": {
   "x": {"field": "t", "type": "quantitative", "scale": {"domain": [0, 12], "nice": false}, "axis": {"title": "时间/s", "values": [0, 2, 4, 6, 8, 10, 12]}},
   "y": {"field": "v", "type": "quantitative", "scale": {"domain": [-2, 2], "nice": false}, "axis": {"title": "转角信号/(°)", "values": [-2, -1, 0, 1, 2]}}
  }
 },
 {
  "width": 469, "height": 291, "title": {"text": "（b）电机转矩输出", "dx": -6},
  "layer": [
   {
    "data": {"name": "b"},
    "transform": [{"fold": ["左前轮", "右前轮", "左后轮", "右后轮"], "as": ["s", "v"]}],
    "mark": {"type": "line", "interpolate": "monotone", "strokeWidth": 2.8},
    "encoding": {
     "x": {"field": "t", "type": "quantitative", "scale": {"domain": [0, 12], "nice": false}, "axis": {"title": "时间/s", "values": [0, 2, 4, 6, 8, 10, 12]}},
     "y": {"field": "v", "type": "quantitative", "scale": {"domain": [-400, 492], "nice": false, "zero": false}, "axis": {"title": "电机转矩/N·m", "values": [-400, -200, 0, 200, 400], "domain": false}},
     "color": {"field": "s", "type": "nominal", "scale": {"domain": ["左前轮", "右前轮", "左后轮", "右后轮"], "range": ["#E9A229", "#A8282F", "#18A39B", "#2B8B3F"]}, "legend": {"title": null, "orient": "none", "legendX": 365, "legendY": 2}},
     "strokeDash": {"field": "s", "type": "nominal", "scale": {"domain": ["左前轮", "右前轮", "左后轮", "右后轮"], "range": [[1, 0], [8, 3, 2, 3], [12, 5], [2.5, 3]]}, "legend": {"title": null, "orient": "none", "legendX": 365, "legendY": 2}}
    }
   },
   {
    "data": {"values": [{"t": 0, "v": -400, "v2": 400}]},
    "mark": {"type": "rule", "color": "#333", "strokeWidth": 1.5},
    "encoding": {"x": {"field": "t", "type": "quantitative"}, "y": {"field": "v", "type": "quantitative"}, "y2": {"field": "v2"}}
   }
  ]
 },
 {
  "width": 469, "height": 291, "title": {"text": "（c）前轮转角", "dx": -29},
  "resolve": {"scale": {"x": "independent", "y": "independent"}},
  "layer": [
   {
    "layer": [
     {
      "data": {"name": "c"},
      "transform": [{"fold": ["期望值", "容错控制", "无控制"], "as": ["s", "v"]}, {"filter": "isValid(datum.v)"}],
      "mark": {"type": "line", "interpolate": "monotone", "strokeWidth": 2.8},
      "encoding": {
       "x": {"field": "t", "type": "quantitative", "scale": {"domain": [0, 12], "nice": false}, "axis": {"title": "时间/s", "values": [0, 2, 4, 6, 8, 10, 12]}},
       "y": {"field": "v", "type": "quantitative", "scale": {"domain": [-2, 2], "nice": false}, "axis": {"title": "前轮转角/(°)", "values": [-2, -1, 0, 1, 2]}},
       "color": {"field": "s", "type": "nominal", "scale": {"domain": ["期望值", "容错控制", "无控制"], "range": ["#B22B31", "#1F8B47", "#111111"]}, "legend": {"title": null, "orient": "none", "legendX": 342, "legendY": 6}},
       "strokeDash": {"field": "s", "type": "nominal", "scale": {"domain": ["期望值", "容错控制", "无控制"], "range": [[1, 0], [9, 4], [3, 3]]}, "legend": {"title": null, "orient": "none", "legendX": 342, "legendY": 6}}
      }
     },
     {
      "data": {"values": [{"t": 3.92, "t2": 4.6, "v": -0.39, "v2": 0.04}]},
      "mark": {"type": "rect", "filled": false, "stroke": "#111", "strokeWidth": 2},
      "encoding": {"x": {"field": "t", "type": "quantitative"}, "x2": {"field": "t2"}, "y": {"field": "v", "type": "quantitative"}, "y2": {"field": "v2"}}
     },
     {
      "data": {"values": [{"t": 4.6, "v": -0.232, "t2": 8.55, "v2": -0.452}]},
      "mark": {"type": "rule", "color": "#111", "strokeWidth": 1.6},
      "encoding": {"x": {"field": "t", "type": "quantitative"}, "x2": {"field": "t2"}, "y": {"field": "v", "type": "quantitative"}, "y2": {"field": "v2"}}
     },
     {
      "data": {"values": [{"t": 8.57, "v": -0.453}]},
      "mark": {"type": "point", "shape": "triangle-right", "size": 150, "filled": true, "color": "#111", "opacity": 1, "angle": 6},
      "encoding": {"x": {"field": "t", "type": "quantitative"}, "y": {"field": "v", "type": "quantitative"}}
     }
    ]
   },
   {
    "data": {"name": "c_in"},
    "transform": [{"fold": ["期望值", "容错控制", "无控制"], "as": ["s", "v"]}],
    "mark": {"type": "line", "interpolate": "monotone", "strokeWidth": 2.4},
    "encoding": {
     "x": {"field": "t", "type": "quantitative", "scale": {"domain": [3.8, 4.5], "range": [343, 420], "nice": false, "zero": false}, "axis": {"orient": "bottom", "offset": -35, "values": [3.8, 4.4], "title": null, "labelFontSize": 16, "tickSize": -4, "labelPadding": 10}},
     "y": {"field": "v", "type": "quantitative", "scale": {"domain": [-0.7, 0.1], "range": [256, 183], "nice": false, "zero": false}, "axis": {"orient": "left", "offset": -343, "values": [-0.7, -0.4, -0.1], "title": null, "labelFontSize": 16, "tickSize": -4, "labelPadding": 10}},
     "color": {"field": "s", "type": "nominal", "legend": null},
     "strokeDash": {"field": "s", "type": "nominal", "legend": null}
    }
   }
  ]
 },
 {
  "width": 469, "height": 291, "title": {"text": "（d）车辆运动轨迹", "dx": -17},
  "data": {"name": "d"},
  "transform": [{"fold": ["期望值", "容错控制", "无控制"], "as": ["s", "v"]}, {"filter": "isValid(datum.v)"}],
  "mark": {"type": "line", "interpolate": "monotone", "strokeWidth": 2.8},
  "encoding": {
   "x": {"field": "t", "type": "quantitative", "scale": {"domain": [0, 300], "nice": false}, "axis": {"title": "纵向位移/m", "values": [0, 50, 100, 150, 200, 250, 300]}},
   "y": {"field": "v", "type": "quantitative", "scale": {"domain": [-2, 8], "nice": false}, "axis": {"title": "横向位移/m", "values": [-2, 0, 2, 4, 6, 8]}},
   "color": {"field": "s", "type": "nominal", "scale": {"domain": ["期望值", "容错控制", "无控制"], "range": ["#B22B31", "#1F8B47", "#111111"]}, "legend": {"title": null, "orient": "none", "legendX": 14, "legendY": 7}},
   "strokeDash": {"field": "s", "type": "nominal", "scale": {"domain": ["期望值", "容错控制", "无控制"], "range": [[1, 0], [9, 4], [3, 3]]}, "legend": {"title": null, "orient": "none", "legendX": 14, "legendY": 7}}
  }
 },
 {
  "width": 469, "height": 291, "title": {"text": "（e）横摆角速度", "dx": -16},
  "resolve": {"scale": {"x": "independent", "y": "independent"}},
  "layer": [
   {
    "layer": [
     {
      "data": {"name": "e"},
      "transform": [{"fold": ["期望值", "容错控制", "无控制"], "as": ["s", "v"]}, {"filter": "isValid(datum.v)"}],
      "mark": {"type": "line", "interpolate": "monotone", "strokeWidth": 2.8},
      "encoding": {
       "x": {"field": "t", "type": "quantitative", "scale": {"domain": [0, 12], "nice": false}, "axis": {"title": "时间/s", "values": [0, 2, 4, 6, 8, 10, 12]}},
       "y": {"field": "v", "type": "quantitative", "scale": {"domain": [-0.2, 0.2], "nice": false}, "axis": {"title": "横摆角速度/(°)·s⁻¹", "values": [-0.2, -0.1, 0, 0.1, 0.2]}},
       "color": {"field": "s", "type": "nominal", "scale": {"domain": ["期望值", "容错控制", "无控制"], "range": ["#B22B31", "#1F8B47", "#111111"]}, "legend": {"title": null, "orient": "none", "legendX": 343, "legendY": 7}},
       "strokeDash": {"field": "s", "type": "nominal", "scale": {"domain": ["期望值", "容错控制", "无控制"], "range": [[1, 0], [9, 4], [3, 3]]}, "legend": {"title": null, "orient": "none", "legendX": 343, "legendY": 7}}
      }
     },
     {
      "data": {"values": [{"t": 3.88, "t2": 4.86, "v": -0.0494, "v2": 0.0135}]},
      "mark": {"type": "rect", "filled": false, "stroke": "#111", "strokeWidth": 2},
      "encoding": {"x": {"field": "t", "type": "quantitative"}, "x2": {"field": "t2"}, "y": {"field": "v", "type": "quantitative"}, "y2": {"field": "v2"}}
     },
     {
      "data": {"values": [{"t": 4.86, "v": -0.024, "t2": 8.15, "v2": -0.0472}]},
      "mark": {"type": "rule", "color": "#111", "strokeWidth": 1.6},
      "encoding": {"x": {"field": "t", "type": "quantitative"}, "x2": {"field": "t2"}, "y": {"field": "v", "type": "quantitative"}, "y2": {"field": "v2"}}
     },
     {
      "data": {"values": [{"t": 8.18, "v": -0.0474}]},
      "mark": {"type": "point", "shape": "triangle-right", "size": 150, "filled": true, "color": "#111", "opacity": 1, "angle": 7.5},
      "encoding": {"x": {"field": "t", "type": "quantitative"}, "y": {"field": "v", "type": "quantitative"}}
     }
    ]
   },
   {
    "data": {"name": "e_in"},
    "transform": [{"fold": ["期望值", "容错控制", "无控制"], "as": ["s", "v"]}],
    "mark": {"type": "line", "interpolate": "monotone", "strokeWidth": 2.4},
    "encoding": {
     "x": {"field": "t", "type": "quantitative", "scale": {"domain": [3.9, 4.7], "range": [332, 450], "nice": false, "zero": false}, "axis": {"orient": "bottom", "offset": -38, "values": [3.9, 4.5], "title": null, "labelFontSize": 16, "tickSize": -4, "labelPadding": 10}},
     "y": {"field": "v", "type": "quantitative", "scale": {"domain": [-0.07, 0.01], "range": [253, 178], "nice": false, "zero": false}, "axis": {"orient": "left", "offset": -332, "values": [-0.07, -0.04, -0.01], "title": null, "labelFontSize": 16, "tickSize": -4, "labelPadding": 10}},
     "color": {"field": "s", "type": "nominal", "legend": null},
     "strokeDash": {"field": "s", "type": "nominal", "legend": null}
    }
   }
  ]
 },
 {
  "width": 469, "height": 291, "title": {"text": "（f）质心侧偏角", "dx": 9},
  "resolve": {"scale": {"x": "independent", "y": "independent"}},
  "layer": [
   {
    "layer": [
     {
      "data": {"name": "f"},
      "transform": [{"fold": ["期望值", "容错控制", "无控制"], "as": ["s", "v"]}, {"filter": "isValid(datum.v)"}],
      "mark": {"type": "line", "interpolate": "monotone", "strokeWidth": 2.8},
      "encoding": {
       "x": {"field": "t", "type": "quantitative", "scale": {"domain": [0, 12], "nice": false}, "axis": {"title": "时间/s", "values": [0, 2, 4, 6, 8, 10, 12]}},
       "y": {"field": "v", "type": "quantitative", "scale": {"domain": [-0.02, 0.02], "nice": false}, "axis": {"title": "质心侧偏角/rad", "values": [-0.02, -0.01, 0, 0.01, 0.02]}},
       "color": {"field": "s", "type": "nominal", "scale": {"domain": ["期望值", "容错控制", "无控制"], "range": ["#B22B31", "#1F8B47", "#111111"]}, "legend": {"title": null, "orient": "none", "legendX": 344, "legendY": 8}},
       "strokeDash": {"field": "s", "type": "nominal", "scale": {"domain": ["期望值", "容错控制", "无控制"], "range": [[1, 0], [9, 4], [3, 3]]}, "legend": {"title": null, "orient": "none", "legendX": 344, "legendY": 8}}
      }
     },
     {
      "data": {"values": [{"t": 3.67, "t2": 4.2, "v": 0.00464, "v2": 0.00805}]},
      "mark": {"type": "rect", "filled": false, "stroke": "#111", "strokeWidth": 2},
      "encoding": {"x": {"field": "t", "type": "quantitative"}, "x2": {"field": "t2"}, "y": {"field": "v", "type": "quantitative"}, "y2": {"field": "v2"}}
     },
     {
      "data": {"values": [{"t": 4.1, "v": 0.0055, "t2": 5.42, "v2": -0.0037}]},
      "mark": {"type": "rule", "color": "#111", "strokeWidth": 1.6},
      "encoding": {"x": {"field": "t", "type": "quantitative"}, "x2": {"field": "t2"}, "y": {"field": "v", "type": "quantitative"}, "y2": {"field": "v2"}}
     },
     {
      "data": {"values": [{"t": 5.44, "v": -0.0039}]},
      "mark": {"type": "point", "shape": "triangle-right", "size": 150, "filled": true, "color": "#111", "opacity": 1, "angle": 54},
      "encoding": {"x": {"field": "t", "type": "quantitative"}, "y": {"field": "v", "type": "quantitative"}}
     }
    ]
   },
   {
    "data": {"name": "f_in"},
    "transform": [{"fold": ["期望值", "容错控制", "无控制"], "as": ["s", "v"]}],
    "mark": {"type": "line", "interpolate": "monotone", "strokeWidth": 2.4},
    "encoding": {
     "x": {"field": "t", "type": "quantitative", "scale": {"domain": [3.9, 4.2], "range": [220, 278], "nice": false, "zero": false}, "axis": {"orient": "bottom", "offset": -37, "values": [3.9, 4.1], "title": null, "labelFontSize": 16, "tickSize": -4, "labelPadding": 10}},
     "y": {"field": "v", "type": "quantitative", "scale": {"domain": [0.002, 0.007], "range": [254, 180], "nice": false, "zero": false}, "axis": {"orient": "left", "offset": -220, "values": [0.002, 0.005], "title": null, "labelFontSize": 16, "tickSize": -4, "labelPadding": 10}},
     "color": {"field": "s", "type": "nominal", "legend": null},
     "strokeDash": {"field": "s", "type": "nominal", "legend": null}
    }
   }
  ]
 },
 {
  "width": 469, "height": 291, "title": {"text": "（g）侧向加速度", "dx": -6},
  "data": {"name": "g"},
  "transform": [{"fold": ["容错控制", "无控制"], "as": ["s", "v"]}, {"filter": "isValid(datum.v)"}],
  "mark": {"type": "line", "interpolate": "monotone", "strokeWidth": 2.8},
  "encoding": {
   "x": {"field": "t", "type": "quantitative", "scale": {"domain": [0, 12], "nice": false}, "axis": {"title": "时间/s", "values": [0, 2, 4, 6, 8, 10, 12]}},
   "y": {"field": "v", "type": "quantitative", "scale": {"domain": [-0.4, 0.4], "nice": false}, "axis": {"title": "侧向加速度/g", "values": [-0.4, -0.3, -0.2, -0.1, 0, 0.1, 0.2, 0.3, 0.4]}},
   "color": {"field": "s", "type": "nominal", "scale": {"domain": ["容错控制", "无控制"], "range": ["#1F8B47", "#111111"]}, "legend": {"title": null, "orient": "none", "legendX": 343, "legendY": 5}},
   "strokeDash": {"field": "s", "type": "nominal", "scale": {"domain": ["容错控制", "无控制"], "range": [[9, 4], [3, 3]]}, "legend": {"title": null, "orient": "none", "legendX": 343, "legendY": 5}}
  }
 },
 {
  "width": 469, "height": 291, "title": {"text": "（h）纵向车速", "dx": -2},
  "data": {"name": "h"},
  "transform": [{"fold": ["期望值", "容错控制", "无控制"], "as": ["s", "v"]}, {"filter": "isValid(datum.v)"}],
  "mark": {"type": "line", "interpolate": "monotone", "strokeWidth": 2.8},
  "encoding": {
   "x": {"field": "t", "type": "quantitative", "scale": {"domain": [0, 12], "nice": false}, "axis": {"title": "时间/s", "values": [0, 2, 4, 6, 8, 10, 12]}},
   "y": {"field": "v", "type": "quantitative", "scale": {"domain": [89.85, 90.1], "nice": false, "zero": false}, "axis": {"title": "纵向速度/km·h⁻¹", "values": [89.85, 89.9, 89.95, 90, 90.05, 90.1], "format": ".2f"}},
   "color": {"field": "s", "type": "nominal", "scale": {"domain": ["期望值", "容错控制", "无控制"], "range": ["#B22B31", "#1F8B47", "#111111"]}, "legend": {"title": null, "orient": "none", "legendX": 346, "legendY": 5}},
   "strokeDash": {"field": "s", "type": "nominal", "scale": {"domain": ["期望值", "容错控制", "无控制"], "range": [[1, 0], [9, 4], [3, 3]]}, "legend": {"title": null, "orient": "none", "legendX": 346, "legendY": 5}}
  }
 }
]
}
